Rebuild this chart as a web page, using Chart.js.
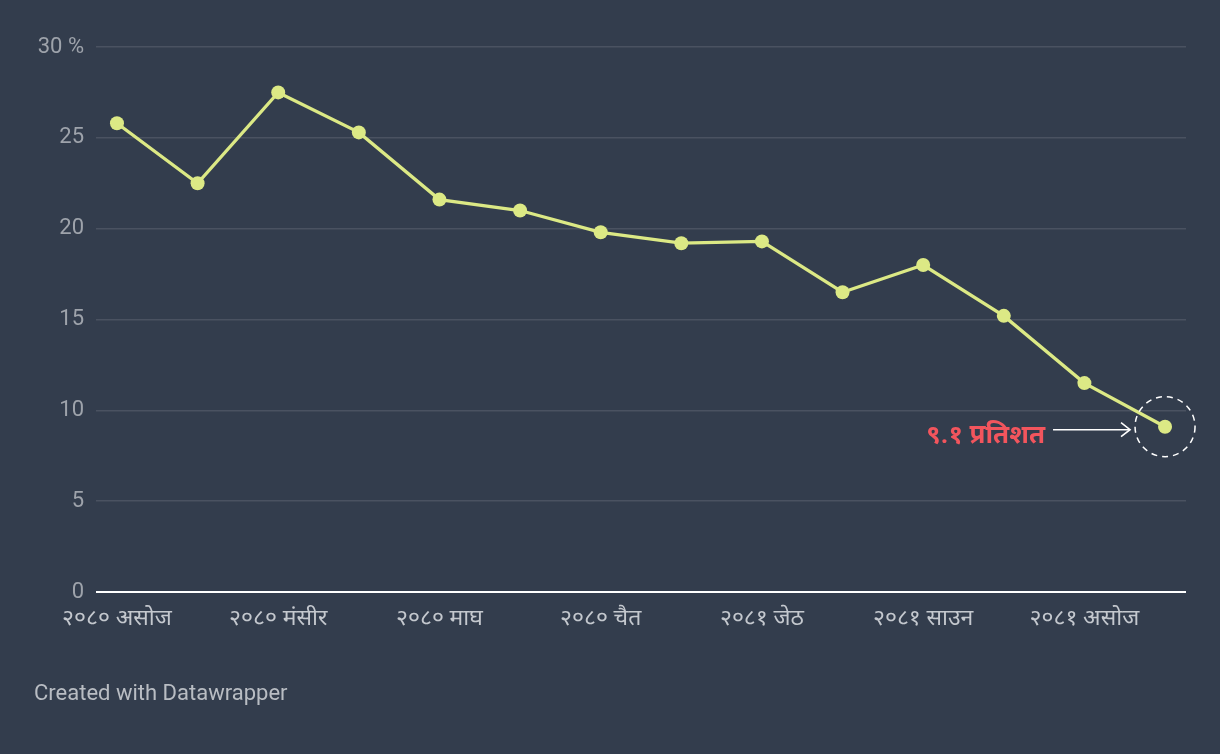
<!DOCTYPE html>
<html><head><meta charset="utf-8">
<script src="https://cdn.jsdelivr.net/npm/chart.js@4"></script>
<style>html,body{margin:0;padding:0;background:#333d4d;}#wrap{width:1220px;height:754px;position:relative;}</style>
</head><body><div id="wrap"><canvas id="c" width="1220" height="754"></canvas></div>
<script>
const months = ["२०८० असोज","२०८० कात्तिक","२०८० मंसीर","२०८० पुस","२०८० माघ","२०८० फागुन","२०८० चैत","२०८१ वैशाख","२०८१ जेठ","२०८१ असार","२०८१ साउन","२०८१ भदौ","२०८१ असोज","२०८१ कात्तिक"];
const values = [25.8,22.5,27.5,25.3,21.6,21.0,19.8,19.2,19.3,16.5,18.0,15.2,11.5,9.1];
const yTicks = [0,5,10,15,20,25,30];
const xTickIdx = [0,2,4,6,8,10,12];
const annotationText = "९.१ प्रतिशत";
const footerText = "Created with Datawrapper";

const FONT = "Roboto, 'Noto Sans', 'Noto Sans Devanagari', sans-serif";

const annPlugin = {
  id:'ann',
  afterDatasetsDraw(chart){
    const ctx = chart.ctx;
    const xs = chart.scales.x, ys = chart.scales.y;
    const i = values.length-1;
    const px = xs.getPixelForValue(i), py = ys.getPixelForValue(values[i]);
    ctx.save();
    ctx.strokeStyle = '#ffffff'; ctx.lineWidth = 1.5; ctx.setLineDash([6,5]);
    ctx.beginPath(); ctx.arc(px, py, 30, 0, Math.PI*2); ctx.stroke();
    ctx.setLineDash([]);
    ctx.lineWidth = 1.6;
    const ay = py + 3;
    ctx.beginPath(); ctx.moveTo(px-112, ay); ctx.lineTo(px-35, ay); ctx.stroke();
    ctx.beginPath(); ctx.moveTo(px-44, ay-7); ctx.lineTo(px-35, ay); ctx.lineTo(px-44, ay+7); ctx.stroke();
    ctx.fillStyle = '#f2555d';
    ctx.font = "bold 26px " + FONT;
    ctx.textAlign = 'right'; ctx.textBaseline = 'middle';
    ctx.fillText(annotationText, px-120, ay+7);
    ctx.fillStyle = '#b9bdc3';
    ctx.font = "22px " + FONT;
    ctx.textAlign = 'left'; ctx.textBaseline = 'middle';
    ctx.fillText(footerText, 34, 694);
    ctx.restore();
  }
};

const zeroLine = {
  id:'zero',
  beforeDatasetsDraw(chart){
    const ctx = chart.ctx, a = chart.chartArea;
    const y = chart.scales.y.getPixelForValue(0);
    ctx.save(); ctx.strokeStyle='#ffffff'; ctx.lineWidth=2;
    ctx.beginPath(); ctx.moveTo(a.left, y); ctx.lineTo(a.right, y); ctx.stroke(); ctx.restore();
  }
};

new Chart(document.getElementById('c'), {
  type:'line',
  data:{ datasets:[{ data: values.map((v,i)=>({x:i,y:v})), borderColor:'#dce985', backgroundColor:'#dce985',
    borderWidth:3.3, pointRadius:7, pointHoverRadius:7, pointBorderWidth:0, tension:0 }]},
  options:{
    responsive:false, animation:false,
    layout:{padding:{top:47,right:34,left:0,bottom:0}},
    plugins:{legend:{display:false}, tooltip:{enabled:false}},
    scales:{
      x:{ type:'linear', min:-0.26, max:13.26,
        afterFit(s){ s.height = 162; },
        afterBuildTicks(s){ s.ticks = xTickIdx.map(v=>({value:v})); },
        grid:{display:false, drawTicks:false}, border:{display:false},
        ticks:{ autoSkip:false, maxRotation:0, padding:13, color:'#c4c8ce', font:{family:FONT,size:23},
          callback:(v)=>months[v] }
      },
      y:{ min:0, max:30,
        afterFit(s){ s.width = 96; },
        afterBuildTicks(s){ s.ticks = yTicks.map(v=>({value:v})); },
        grid:{color:'#4a5261', lineWidth:1.5, drawTicks:false}, border:{display:false},
        ticks:{ padding:12, color:'#9ea3ab', font:{family:FONT,size:22},
          callback:(v)=> v===30 ? '30 %' : String(v) }
      }
    }
  },
  plugins:[zeroLine, annPlugin]
});
</script></body></html>
